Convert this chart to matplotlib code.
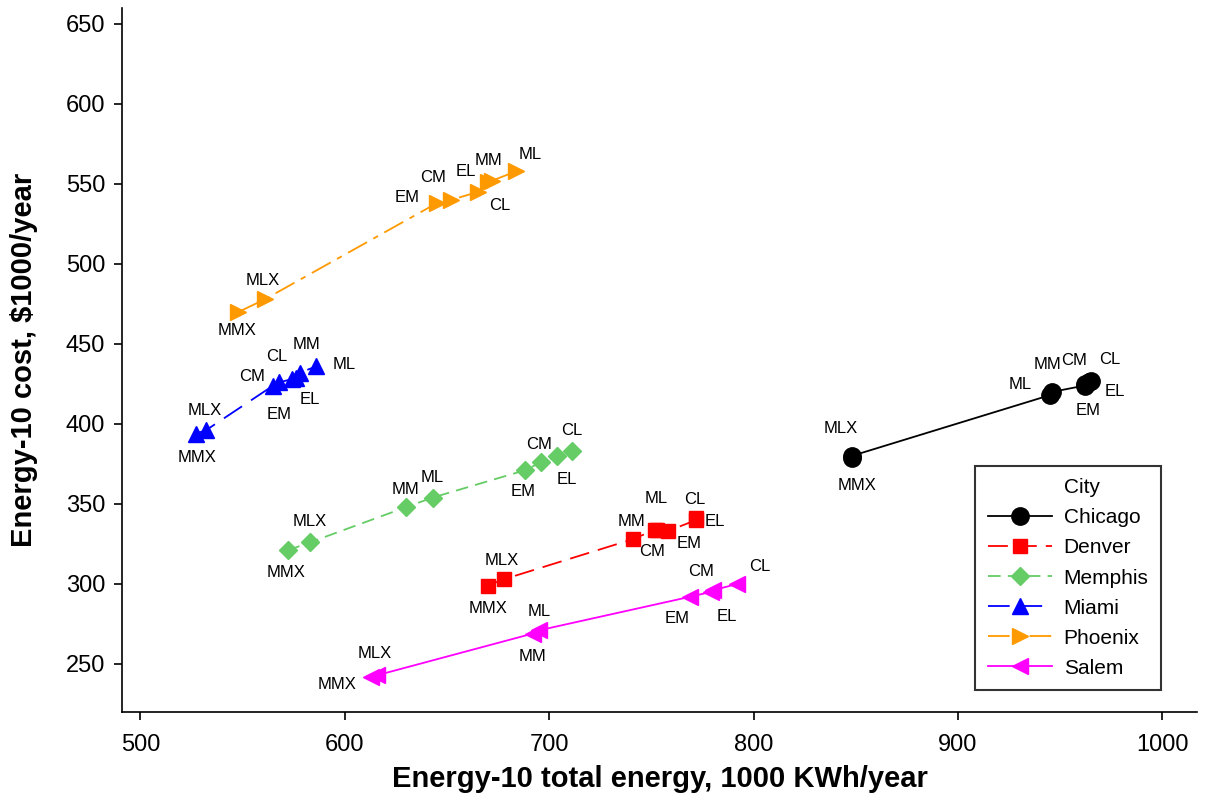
import numpy as np
import matplotlib
matplotlib.use("Agg")
import matplotlib.pyplot as plt
from matplotlib.lines import Line2D

plt.rcParams["font.family"] = ["Liberation Sans", "DejaVu Sans"]

# Building scenarios (same order for every city)
scenarios = ["MMX", "MLX", "MM", "ML", "EM", "CM", "EL", "CL"]

cities = ["Chicago", "Denver", "Memphis", "Miami", "Phoenix", "Salem"]

# Total energy, 1000 kWh/year
chicago_energy = [848, 848, 946, 945, 962, 962, 964, 965]
denver_energy = [670, 678, 741, 753, 758, 752, 772, 772]
memphis_energy = [572, 583, 630, 643, 688, 696, 704, 711]
miami_energy = [527, 532, 578, 586, 568, 565, 576, 574]
phoenix_energy = [548, 561, 672, 684, 645, 652, 665, 670]
salem_energy = [613, 616, 692, 695, 769, 779, 780, 792]

# Cost, $1000/year
chicago_cost = [379, 380, 420, 418, 424, 425, 426, 427]
denver_cost = [299, 303, 328, 334, 333, 334, 340, 341]
memphis_cost = [321, 326, 348, 354, 371, 376, 380, 383]
miami_cost = [394, 396, 432, 436, 426, 424, 429, 428]
phoenix_cost = [470, 478, 552, 558, 538, 540, 545, 551]
salem_cost = [242, 243, 269, 271, 292, 295, 296, 300]

energy = [chicago_energy, denver_energy, memphis_energy, miami_energy, phoenix_energy, salem_energy]
cost = [chicago_cost, denver_cost, memphis_cost, miami_cost, phoenix_cost, salem_cost]

styles = {
    "Chicago": dict(color="black", marker="o", ms=12.5, ls="-"),
    "Denver": dict(color="#FF0000", marker="s", ms=10.5, ls=(0, (11, 5))),
    "Memphis": dict(color="#66CC66", marker="D", ms=9.5, ls=(0, (7, 4))),
    "Miami": dict(color="#0000FF", marker="^", ms=12, ls=(0, (12, 6))),
    "Phoenix": dict(color="#FF9900", marker=">", ms=12, ls=(0, (12, 4, 3, 4))),
    "Salem": dict(color="#FF00FF", marker="<", ms=12, ls="-"),
}

# Label offsets in pixels (dx, dy) for each scenario tag
label_offsets = {
    "Chicago": {"MLX": (-11, 27), "MMX": (5, -28), "ML": (-30, 11), "MM": (-4, 27),
                "CM": (-11, 23), "CL": (19, 21), "EL": (26, -9), "EM": (4, -25)},
    "Denver": {"MMX": (0, -23), "MLX": (-2, 19), "MM": (-1, 18), "ML": (-1, 31),
               "CM": (-3, -22), "EM": (21, -12), "CL": (-2, 19), "EL": (19, -2)},
    "Memphis": {"MMX": (-1, -22), "MLX": (0, 21), "MM": (-1, 18), "ML": (0, 20),
                "EM": (-1, -21), "CM": (-2, 18), "EL": (9, -24), "CL": (0, 21)},
    "Miami": {"MMX": (1, -24), "MLX": (-1, 20), "CM": (-21, 9), "CL": (-15, 23),
              "EM": (0, -32), "EL": (14, -22), "MM": (7, 28), "ML": (28, 2)},
    "Phoenix": {"MMX": (-1, -19), "MLX": (-2, 19), "EM": (-30, 6), "CM": (-18, 22),
                "EL": (-12, 20), "CL": (12, -23), "MM": (-3, 20), "ML": (14, 17)},
    "Salem": {"MMX": (-34, -8), "MLX": (-3, 22), "MM": (0, -23), "ML": (0, 19),
              "EM": (-13, -22), "CM": (-10, 20), "EL": (14, -26), "CL": (23, 17)},
}

fig = plt.figure(figsize=(12.14, 7.97), dpi=100)
ax = fig.add_axes([0.1005, 0.1067, 0.8855, 0.8833])

handles = [Line2D([], [], ls="none", marker=None)]
names = ["City"]

for city, xs, ys in zip(cities, energy, cost):
    st = styles[city]
    xs = np.asarray(xs, dtype=float)
    ys = np.asarray(ys, dtype=float)
    order = np.argsort(xs, kind="stable")
    ax.plot(xs[order], ys[order], color=st["color"], ls=st["ls"], lw=1.3, zorder=2)
    ax.plot(xs, ys, ls="none", marker=st["marker"], ms=st["ms"], color=st["color"],
            mec=st["color"], zorder=3)
    for tag, x, y in zip(scenarios, xs, ys):
        dx, dy = label_offsets[city][tag]
        ax.annotate(tag, (x, y), xytext=(dx, dy), textcoords="offset pixels",
                    ha="center", va="center", fontsize=12, color="black", zorder=4)
    handles.append(Line2D([], [], color=st["color"], ls=st["ls"], lw=1.3,
                          marker=st["marker"], ms=st["ms"], mec=st["color"]))
    names.append(city)

ax.set_xlim(491, 1017)
ax.set_ylim(220, 660)
ax.set_xticks(np.arange(500, 1001, 100))
ax.set_yticks(np.arange(250, 651, 50))
ax.tick_params(axis="both", labelsize=17, direction="out", length=6, width=1.2)
ax.tick_params(axis="x", pad=10)
ax.tick_params(axis="y", pad=6)
for side in ("top", "right"):
    ax.spines[side].set_visible(False)
for side in ("left", "bottom"):
    ax.spines[side].set_linewidth(1.2)

ax.set_xlabel("Energy-10 total energy, 1000 KWh/year", fontsize=21, fontweight="bold", labelpad=6)
ax.set_ylabel("Energy-10 cost, $1000/year", fontsize=21, fontweight="bold", labelpad=20)

leg = ax.legend(handles, names, loc="lower left", bbox_to_anchor=(0.7935, 0.031),
                borderaxespad=0, fontsize=15, handlelength=3.1, labelspacing=0.53,
                frameon=True, fancybox=False, edgecolor="black", borderpad=0.6,
                handletextpad=0.55)
leg.get_frame().set_linewidth(1.5)

fig.savefig("out.png", dpi=100)
